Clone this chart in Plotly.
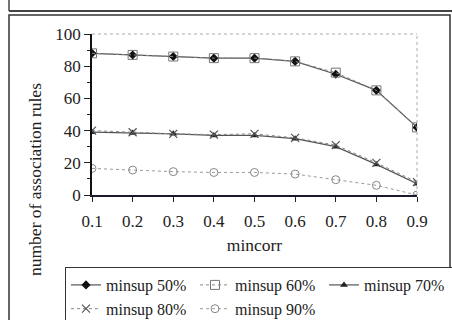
import plotly.graph_objects as go

mincorr = [0.1, 0.2, 0.3, 0.4, 0.5, 0.6, 0.7, 0.8, 0.9]
minsup_50 = [88, 87, 86, 85, 85, 83, 75, 65, 42]
minsup_60 = [88, 87, 86, 85, 85, 83, 76, 65, 42]
minsup_70 = [39, 38.5, 38, 37, 37, 35, 30, 19, 7]
minsup_80 = [40, 39, 38, 37.5, 38, 35.5, 31, 20, 8]
minsup_90 = [16.5, 15.5, 14.5, 14, 14, 13, 9.5, 6, 0]

FONT = "Liberation Serif"

fig = go.Figure()
fig.add_trace(go.Scatter(x=mincorr, y=minsup_50, name="minsup 50%", mode="lines+markers",
                         line=dict(color="#555555", width=1.2),
                         marker=dict(symbol="diamond", size=7, color="#111111")))
fig.add_trace(go.Scatter(x=mincorr, y=minsup_60, name="minsup 60%", mode="lines+markers",
                         line=dict(color="#888888", width=1, dash="dot"),
                         marker=dict(symbol="square-open", size=9, color="#777777", line=dict(width=1))))
fig.add_trace(go.Scatter(x=mincorr, y=minsup_70, name="minsup 70%", mode="lines+markers",
                         line=dict(color="#555555", width=1.2),
                         marker=dict(symbol="triangle-up", size=7, color="#222222")))
fig.add_trace(go.Scatter(x=mincorr, y=minsup_80, name="minsup 80%", mode="lines+markers",
                         line=dict(color="#888888", width=1, dash="dot"),
                         marker=dict(symbol="x-thin-open", size=8, color="#555555", line=dict(width=1.2))))
fig.add_trace(go.Scatter(x=mincorr, y=minsup_90, name="minsup 90%", mode="lines+markers",
                         line=dict(color="#999999", width=1, dash="dot"),
                         marker=dict(symbol="circle-open", size=8, color="#888888", line=dict(width=1))))

def px_x(px):
    return (px - 92) / 325.0

def px_y(py):
    return (195 - py) / 161.0

shapes = [
    dict(type="line", xref="paper", yref="paper", x0=0, x1=1, y0=1, y1=1,
         line=dict(color="#aaaaaa", width=1, dash="dot")),
    dict(type="line", xref="paper", yref="paper", x0=1, x1=1, y0=0, y1=1,
         line=dict(color="#aaaaaa", width=1, dash="dot")),
    dict(type="rect", xref="paper", yref="paper", x0=px_x(9), x1=px_x(450), y0=px_y(335), y1=px_y(15),
         line=dict(color="#333333", width=1.5), layer="below"),
    dict(type="line", xref="paper", yref="paper", x0=px_x(9), x1=px_x(452), y0=px_y(11), y1=px_y(11),
         line=dict(color="#444444", width=2)),
    dict(type="line", xref="paper", yref="paper", x0=px_x(9), x1=px_x(9), y0=px_y(-5), y1=px_y(11),
         line=dict(color="#444444", width=1.5)),
]

fig.update_layout(
    width=452, height=320,
    margin=dict(l=92, r=35, t=34, b=125, autoexpand=False),
    paper_bgcolor="white", plot_bgcolor="white",
    font=dict(family=FONT, size=16, color="#222222"),
    showlegend=True,
    legend=dict(orientation="h", x=px_x(65), y=px_y(267), xanchor="left", yanchor="top",
                bordercolor="#333333", borderwidth=1, bgcolor="white",
                font=dict(family=FONT, size=16, color="#222222"),
                entrywidth=84, entrywidthmode="pixels", itemwidth=30,
                tracegroupgap=0),
    shapes=shapes,
    annotations=[dict(text="number of association rules", xref="paper", yref="paper",
                      x=px_x(35), y=px_y(180), xanchor="center", yanchor="middle",
                      textangle=-90, showarrow=False,
                      font=dict(family=FONT, size=17.5, color="#222222"))],
    xaxis=dict(range=[0.1, 0.9], tickvals=mincorr, ticktext=[str(v) for v in mincorr],
               showgrid=False, zeroline=False, showline=True, linecolor="#1a1a2a", linewidth=1.5,
               ticks="outside", ticklen=5, tickcolor="#222222", ticklabelstandoff=5,
               tickfont=dict(family=FONT, size=17),
               title=dict(text="mincorr", font=dict(family=FONT, size=17.5), standoff=9)),
    yaxis=dict(range=[0, 100], tickvals=[0, 20, 40, 60, 80, 100],
               showgrid=False, zeroline=False, showline=True, linecolor="#111111", linewidth=1.5,
               ticks="outside", ticklen=6, tickcolor="#222222",
               minor=dict(tickvals=[10, 30, 50, 70, 90], ticks="outside", ticklen=3, tickcolor="#222222"),
               tickfont=dict(family=FONT, size=17)),
)

fig.write_html("out.html", config={"displayModeBar": False},
               post_script="document.body.style.margin='0px';")
